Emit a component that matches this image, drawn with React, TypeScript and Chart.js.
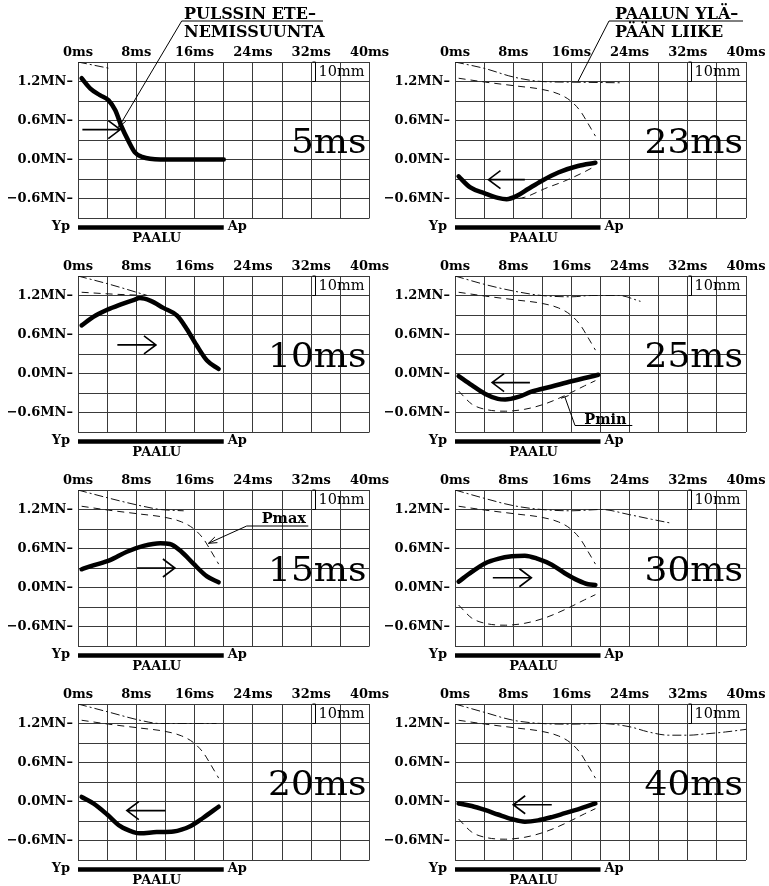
import React, { useEffect, useRef } from 'react';
import { Chart, registerables } from 'chart.js';
Chart.register(...registerables);

type Pt = [number, number];

// ---- axis ticks ----
const X_LABELED = [0, 8, 16, 24, 32, 40];
const Y_LABELED = [1.2, 0.6, 0.0, -0.6];

// ---- panel titles ----
const LEFT_LABELS = ['5ms', '10ms', '15ms', '20ms'];
const RIGHT_LABELS = ['23ms', '25ms', '30ms', '40ms'];

// ---- force waves (thick) ----
const force5: Pt[] = [[0.5, 1.25], [1.7, 1.09], [3, 0.99], [4.2, 0.91], [5.1, 0.76], [6, 0.5], [6.9, 0.29], [7.8, 0.11], [8.8, 0.04], [11.3, 0], [20, 0]];
const force10: Pt[] = [[0.5, 0.74], [2.1, 0.87], [4, 0.98], [5.8, 1.06], [7.6, 1.13], [8.5, 1.16], [9.9, 1.12], [11.7, 1.01], [13.6, 0.89], [14.9, 0.69], [16.3, 0.43], [17.7, 0.2], [19.3, 0.07]];
const force15: Pt[] = [[0.5, 0.28], [2.1, 0.34], [4.4, 0.42], [6.7, 0.55], [9, 0.64], [11.3, 0.68], [12.6, 0.67], [14.2, 0.55], [15.8, 0.37], [17.7, 0.17], [19.3, 0.08]];
const force20: Pt[] = [[0.5, 0.07], [2.1, -0.03], [4, -0.2], [5.8, -0.38], [7.6, -0.47], [8.5, -0.49], [10.8, -0.47], [13.1, -0.46], [15.4, -0.38], [17.2, -0.25], [19.3, -0.08]];
const force23: Pt[] = [[0.5, -0.26], [2.1, -0.43], [4.1, -0.52], [5.9, -0.59], [7.1, -0.61], [8.5, -0.56], [10.1, -0.45], [11.9, -0.33], [14.2, -0.2], [16.9, -0.1], [19.3, -0.05]];
const force25: Pt[] = [[0.5, -0.04], [2.3, -0.18], [4.1, -0.31], [5.9, -0.39], [6.9, -0.4], [8.7, -0.36], [10.5, -0.28], [13.3, -0.2], [16, -0.12], [19.7, -0.02]];
const force30: Pt[] = [[0.5, 0.09], [2.3, 0.24], [4.1, 0.37], [5.9, 0.44], [7.8, 0.48], [9.6, 0.49], [11.4, 0.44], [13.3, 0.35], [15.1, 0.22], [16.9, 0.11], [18.3, 0.05], [19.3, 0.04]];
const force40: Pt[] = [[0.5, -0.03], [2.3, -0.07], [4.1, -0.13], [5.9, -0.2], [7.8, -0.27], [9.6, -0.31], [11.4, -0.29], [13.3, -0.24], [15.1, -0.18], [16.9, -0.12], [19.3, -0.03]];

// ---- pile top movement (dash-dot) ----
const top5: Pt[] = [[0, 1.5], [4.4, 1.4]];
const top10: Pt[] = [[0, 1.5], [4.4, 1.37], [9.5, 1.2]];
const top15: Pt[] = [[0, 1.5], [4.4, 1.37], [8.5, 1.26], [11.3, 1.2], [14.5, 1.18]];
const top20: Pt[] = [[0, 1.5], [4.4, 1.37], [8.5, 1.25], [11.3, 1.2], [19, 1.2]];
const top23: Pt[] = [[0, 1.5], [4.1, 1.4], [8, 1.27], [11.9, 1.2], [16, 1.19], [22.9, 1.18]];
const top25: Pt[] = [[0, 1.5], [4.1, 1.37], [8, 1.27], [11.9, 1.2], [16, 1.18], [18.8, 1.2], [22.5, 1.2], [25.5, 1.11]];
const top30: Pt[] = [[0, 1.5], [4.1, 1.37], [8, 1.26], [11.9, 1.2], [16, 1.18], [20.1, 1.2], [24, 1.12], [27, 1.05], [29.7, 0.99]];
const top40: Pt[] = [[0, 1.5], [4.1, 1.37], [8, 1.25], [11.9, 1.2], [16, 1.19], [20.1, 1.2], [24, 1.15], [26.6, 1.07], [29.4, 1.02], [32.1, 1.02], [34.4, 1.04], [37.2, 1.07], [40, 1.11]];

// ---- envelopes (dashed) ----
const pmax10: Pt[] = [[0.5, 1.25], [5, 1.22], [9.5, 1.2]];
const pmaxFull: Pt[] = [[0.5, 1.25], [4.2, 1.19], [8.5, 1.13], [11.9, 1.08], [14.2, 1.01], [15.8, 0.91], [17.2, 0.75], [18.2, 0.57], [19.3, 0.36]];
const pmin23: Pt[] = [[7.1, -0.62], [9.6, -0.58], [12.3, -0.45], [15.1, -0.33], [17.8, -0.19], [19.3, -0.1]];
const pminFull: Pt[] = [[0.5, -0.27], [2.3, -0.47], [4.1, -0.55], [6.9, -0.58], [9.6, -0.55], [12.3, -0.47], [15.1, -0.34], [17.8, -0.19], [19.3, -0.11]];

// ---- direction arrows [from, to, level] ----
const arrow5 = [0.6, 5.8, 0.46];
const arrow10 = [5.4, 10.7, 0.44];
const arrow15 = [8.1, 13.3, 0.3];
const arrow20 = [12, 6.7, -0.14];
const arrow23 = [9.6, 4.6, -0.31];
const arrow25 = [10.3, 5.1, -0.14];
const arrow30 = [5.2, 10.5, 0.15];
const arrow40 = [13.3, 8.0, -0.05];

type Callout = {
  lines: string[];
  font: string;
  tx: number; ty: number; gap: number;
  ulY: number; ulX1: number; ulX2: number;
  target: Pt; head: 'arrow' | 'tick' | 'none';
};

type PanelCfg = {
  label: string; col: number; row: number;
  force: Pt[]; top: Pt[]; pmax?: Pt[]; pmin?: Pt[];
  arrow: number[]; callout?: Callout;
};

const SERIF = '"DejaVu Serif", serif';
const GRID = '#3a3a3a';

const PANELS: PanelCfg[] = [
  { label: LEFT_LABELS[0], col: 0, row: 0, force: force5, top: top5, arrow: arrow5,
    callout: { lines: ['PULSSIN ETE–', 'NEMISSUUNTA'], font: `bold 16px ${SERIF}`, tx: 106, ty: -43.5, gap: 18.5, ulY: -41, ulX1: 103.7, ulX2: 245, target: [5.6, 0.5], head: 'arrow' } },
  { label: LEFT_LABELS[1], col: 0, row: 1, force: force10, top: top10, pmax: pmax10, arrow: arrow10 },
  { label: LEFT_LABELS[2], col: 0, row: 2, force: force15, top: top15, pmax: pmaxFull, arrow: arrow15,
    callout: { lines: ['Pmax'], font: `bold 14.5px ${SERIF}`, tx: 183.7, ty: 33.3, gap: 0, ulY: 36, ulX1: 168.7, ulX2: 230.3, target: [17.9, 0.68], head: 'arrow' } },
  { label: LEFT_LABELS[3], col: 0, row: 3, force: force20, top: top20, pmax: pmaxFull, arrow: arrow20 },
  { label: RIGHT_LABELS[0], col: 1, row: 0, force: force23, top: top23, pmax: pmaxFull, pmin: pmin23, arrow: arrow23,
    callout: { lines: ['PAALUN YLÄ–', 'PÄÄN LIIKE'], font: `bold 16px ${SERIF}`, tx: 160, ty: -43.5, gap: 18.5, ulY: -41, ulX1: 154, ulX2: 288, target: [16.9, 1.2], head: 'none' } },
  { label: RIGHT_LABELS[1], col: 1, row: 1, force: force25, top: top25, pmax: pmaxFull, pmin: pminFull, arrow: arrow25,
    callout: { lines: ['Pmin'], font: `bold 14.5px ${SERIF}`, tx: 129.3, ty: 147.6, gap: 0, ulY: 149.5, ulX1: 120, ulX2: 177.3, target: [15.1, -0.36], head: 'tick' } },
  { label: RIGHT_LABELS[2], col: 1, row: 2, force: force30, top: top30, pmax: pmaxFull, pmin: pminFull, arrow: arrow30 },
  { label: RIGHT_LABELS[3], col: 1, row: 3, force: force40, top: top40, pmax: pmaxFull, pmin: pminFull, arrow: arrow40 },
];

const toXY = (pts: Pt[]) => pts.map(([x, y]) => ({ x, y }));

const decoPlugin = {
  id: 'deco',
  afterDatasetsDraw(chart: any, _args: any, opts: any) {
    const { ctx, chartArea: ca } = chart;
    const xs = chart.scales.x;
    const ys = chart.scales.y;
    const px = (v: number) => xs.getPixelForValue(v);
    const py = (v: number) => ys.getPixelForValue(v);
    ctx.save();
    ctx.fillStyle = '#000';
    ctx.strokeStyle = '#000';

    // big time label
    ctx.font = `34px ${SERIF}`;
    ctx.textAlign = 'right';
    ctx.textBaseline = 'alphabetic';
    ctx.save();
    ctx.translate(ca.right - 3, py(0) - 6.5);
    ctx.scale(1.06, 1);
    ctx.fillText(opts.label, 0, 0);
    ctx.restore();

    // 10mm bracket
    const bx = Math.round(px(32.5)) + 0.5;
    const bTop = ca.top;
    const bBot = py(1.2);
    ctx.lineWidth = 1;
    ctx.beginPath();
    ctx.moveTo(bx - 3, bTop); ctx.lineTo(bx, bTop); ctx.lineTo(bx, bBot); ctx.lineTo(bx - 3, bBot);
    ctx.stroke();
    ctx.font = `14.5px ${SERIF}`;
    ctx.textAlign = 'left';
    ctx.fillText('10mm', bx + 3, bTop + 14);

    // direction arrow
    const [a1, a2, al] = opts.arrow;
    const ax1 = px(a1), ax2 = px(a2), ay = py(al);
    const dir = ax2 > ax1 ? 1 : -1;
    ctx.lineWidth = 1.6;
    ctx.beginPath();
    ctx.moveTo(ax1, ay); ctx.lineTo(ax2, ay);
    ctx.moveTo(ax2 - dir * 12, ay - 9); ctx.lineTo(ax2, ay); ctx.lineTo(ax2 - dir * 12, ay + 9);
    ctx.stroke();

    // pile bar Yp - Ap
    const barY = ca.bottom + 9.5;
    ctx.lineWidth = 4.5;
    ctx.beginPath();
    ctx.moveTo(px(0), barY); ctx.lineTo(px(20), barY);
    ctx.stroke();
    ctx.font = `bold 13px ${SERIF}`;
    ctx.textBaseline = 'middle';
    ctx.textAlign = 'right';
    ctx.fillText('Yp', px(0) - 8, barY - 1);
    ctx.textAlign = 'left';
    ctx.fillText('Ap', px(20) + 4, barY - 1);
    ctx.textAlign = 'center';
    ctx.fillText('PAALU', px(10.8), barY + 11);

    // callout
    const c = opts.callout;
    if (c && c.lines) {
      ctx.font = c.font;
      ctx.textAlign = 'left';
      ctx.textBaseline = 'alphabetic';
      c.lines.forEach((t: string, i: number) => ctx.fillText(t, ca.left + c.tx, ca.top + c.ty + i * c.gap));
      ctx.lineWidth = 1;
      const s0x = ca.left + c.ulX1, s0y = ca.top + c.ulY;
      ctx.beginPath();
      ctx.moveTo(ca.left + c.ulX2, s0y); ctx.lineTo(s0x, s0y);
      const tx = px(c.target[0]), ty = py(c.target[1]);
      ctx.lineTo(tx, ty);
      ctx.stroke();
      const ang = Math.atan2(ty - s0y, tx - s0x);
      if (c.head === 'arrow') {
        ctx.beginPath();
        ctx.moveTo(tx - 9 * Math.cos(ang - 0.35), ty - 9 * Math.sin(ang - 0.35));
        ctx.lineTo(tx, ty);
        ctx.lineTo(tx - 9 * Math.cos(ang + 0.35), ty - 9 * Math.sin(ang + 0.35));
        ctx.stroke();
      } else if (c.head === 'tick') {
        const pa = ang + Math.PI / 2;
        ctx.beginPath();
        ctx.moveTo(tx - 4 * Math.cos(pa), ty - 4 * Math.sin(pa));
        ctx.lineTo(tx + 4 * Math.cos(pa), ty + 4 * Math.sin(pa));
        ctx.stroke();
      }
    }
    ctx.restore();
  },
};

const CANVAS_H = 250;

function Panel({ cfg }: { cfg: PanelCfg }) {
  const ref = useRef<HTMLCanvasElement | null>(null);
  const width = cfg.col === 0 ? 400 : 392;
  const left = cfg.col === 0 ? 0 : 377;
  const padRight = cfg.col === 0 ? 30.5 : 23;
  useEffect(() => {
    if (!ref.current) return;
    const datasets: any[] = [];
    const thin = { borderColor: '#111', borderWidth: 1, pointRadius: 0, fill: false, cubicInterpolationMode: 'monotone' };
    if (cfg.pmax) datasets.push({ ...thin, data: toXY(cfg.pmax), borderDash: [7, 5] });
    if (cfg.pmin) datasets.push({ ...thin, data: toXY(cfg.pmin), borderDash: [7, 5] });
    datasets.push({ ...thin, data: toXY(cfg.top), borderDash: [9, 3, 2, 3] });
    datasets.push({ borderColor: '#000', borderWidth: 4.5, pointRadius: 0, fill: false, cubicInterpolationMode: 'monotone', data: toXY(cfg.force), borderCapStyle: 'round', borderJoinStyle: 'round' });

    const tickFont = { family: 'DejaVu Serif', weight: 'bold', size: 13 };
    const chart = new Chart(ref.current, {
      type: 'line',
      data: { datasets },
      plugins: [decoPlugin as any],
      options: {
        responsive: false,
        animation: false,
        devicePixelRatio: 1,
        layout: { padding: { left: 8, top: 38, right: padRight, bottom: CANVAS_H - 218 } },
        plugins: {
          legend: { display: false },
          tooltip: { enabled: false },
          deco: { label: cfg.label, arrow: cfg.arrow, callout: cfg.callout },
        } as any,
        scales: {
          x: {
            type: 'linear', position: 'top', min: 0, max: 40,
            afterFit: (s: any) => { s.height = 24; },
            ticks: {
              stepSize: 4, autoSkip: false, maxRotation: 0, padding: 2, color: '#000',
              font: tickFont,
              callback: (v: any) => { const n = Math.round(Number(v)); return X_LABELED.includes(n) ? `${n}ms` : ''; },
            },
            grid: { color: GRID, lineWidth: 1, drawTicks: false },
            border: { display: true, color: GRID },
          },
          y: {
            type: 'linear', min: -0.9, max: 1.5,
            afterFit: (s: any) => { s.width = 70; },
            ticks: {
              stepSize: 0.3, autoSkip: false, padding: 5, color: '#000',
              font: tickFont,
              callback: (v: any) => {
                const n = Math.round(Number(v) * 10) / 10;
                if (!Y_LABELED.some((t) => Math.abs(t - n) < 1e-6)) return '';
                return `${n < 0 ? '−' : ''}${Math.abs(n).toFixed(1)}MN–`;
              },
            },
            grid: { color: GRID, lineWidth: 1, drawTicks: false },
            border: { display: true, color: GRID },
          },
        },
      } as any,
    });
    return () => chart.destroy();
  }, [cfg]);
  return (
    <canvas
      ref={ref}
      width={width}
      height={CANVAS_H}
      style={{ position: 'absolute', left, top: cfg.row * 214, width, height: CANVAS_H }}
    />
  );
}

export default function App() {
  useEffect(() => {
    document.body.style.margin = '0';
  }, []);
  return (
    <div style={{ position: 'relative', width: 769, height: 886, overflow: 'hidden', background: '#fff' }}>
      {PANELS.map((p, i) => <Panel key={i} cfg={p} />)}
    </div>
  );
}
